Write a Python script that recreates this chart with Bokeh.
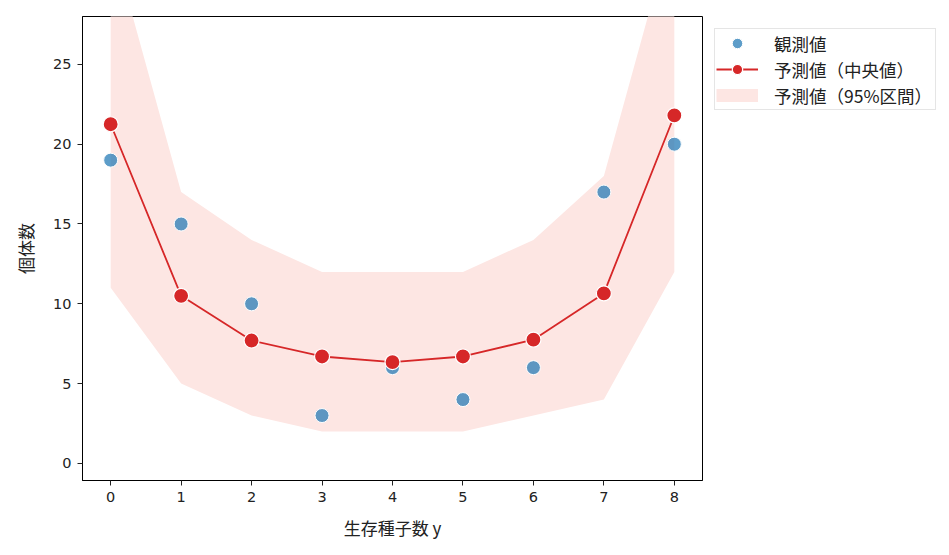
from bokeh.plotting import figure
from bokeh.models import Legend, LegendItem, Range1d, ColumnDataSource, FixedTicker
from bokeh.embed import file_html
from bokeh.resources import INLINE

# data
y_vals = [0, 1, 2, 3, 4, 5, 6, 7, 8]
observed = [19, 15, 10, 3, 6, 4, 6, 17, 20]
pred_median = [21.25, 10.5, 7.7, 6.7, 6.35, 6.7, 7.75, 10.65, 21.8]
pred_lower = [11, 5, 3, 2, 2, 2, 3, 4, 12]
pred_upper = [33, 17, 14, 12, 12, 12, 14, 18, 34]
x_ticks = [0, 1, 2, 3, 4, 5, 6, 7, 8]
y_ticks = [0, 5, 10, 15, 20, 25]

label_obs = "観測値"
label_med = "予測値（中央値）"
label_band = "予測値（95%区間）"
x_label = "生存種子数 y"
y_label = "個体数"

BAND_COLOR = "#fde6e3"

src = ColumnDataSource(dict(x=y_vals, obs=observed, med=pred_median,
                            lo=pred_lower, hi=pred_upper))
# legend-only proxy source (nothing drawn in the plot area)
proxy_src = ColumnDataSource(dict(x=[float("nan")], y=[float("nan")]))

p = figure(frame_width=620, frame_height=464, output_backend="svg",
           toolbar_location=None, x_range=Range1d(-0.4, 8.4),
           y_range=Range1d(-1.07, 28.0),
           min_border_left=82, min_border_top=16, min_border_bottom=70,
           min_border_right=0)

p.background_fill_color = "white"
p.border_fill_color = "white"
p.outline_line_color = "black"
p.outline_line_width = 1
p.xgrid.visible = False
p.ygrid.visible = False

band = p.varea(x="x", y1="lo", y2="hi", source=src,
               fill_color=BAND_COLOR, fill_alpha=1.0)
obs_r = p.scatter(x="x", y="obs", source=src, size=14, marker="circle",
                  fill_color="#1f77b4", fill_alpha=0.72,
                  line_color="white", line_width=1)
line_r = p.line(x="x", y="med", source=src, line_color="#d62728", line_width=1.8)
med_r = p.scatter(x="x", y="med", source=src, size=15, marker="circle",
                  fill_color="#d62728", line_color="white", line_width=1.2)
# legend proxy for the band (patch swatch)
band_proxy = p.line(x="x", y="y", source=proxy_src, line_color=BAND_COLOR,
                    line_width=13)

for ax in (p.xaxis[0], p.yaxis[0]):
    ax.axis_line_color = "black"
    ax.major_tick_in = 0
    ax.major_tick_out = 5
    ax.minor_tick_line_color = None
    ax.major_tick_line_color = "#222222"
    ax.major_label_text_font = "DejaVu Sans"
    ax.major_label_text_font_size = "14.5px"
    ax.major_label_text_color = "#222222"
    ax.axis_label_text_font = "Noto Sans CJK JP"
    ax.axis_label_text_font_size = "17px"
    ax.axis_label_text_font_style = "normal"
    ax.axis_label_text_color = "#222222"
    ax.major_label_standoff = 6

p.xaxis[0].ticker = FixedTicker(ticks=x_ticks)
p.yaxis[0].ticker = FixedTicker(ticks=y_ticks)
p.xaxis[0].axis_label = x_label
p.yaxis[0].axis_label = y_label
p.xaxis[0].axis_label_standoff = 10
p.yaxis[0].axis_label_standoff = 12

legend = Legend(items=[
    LegendItem(label=label_obs, renderers=[obs_r]),
    LegendItem(label=label_med, renderers=[line_r, med_r]),
    LegendItem(label=label_band, renderers=[band_proxy]),
], location="top_left")
legend.label_text_font = "Noto Sans CJK JP"
legend.label_text_font_size = "17.5px"
legend.label_text_color = "#222222"
legend.glyph_width = 42
legend.glyph_height = 26
legend.label_standoff = 16
legend.label_width = 160
legend.spacing = 0
legend.padding = 1
legend.margin = 12
legend.border_line_color = "#cccccc"
legend.border_line_width = 1
legend.background_fill_color = "white"
p.add_layout(legend, "right")

open("out.html", "w").write(file_html(p, INLINE))
